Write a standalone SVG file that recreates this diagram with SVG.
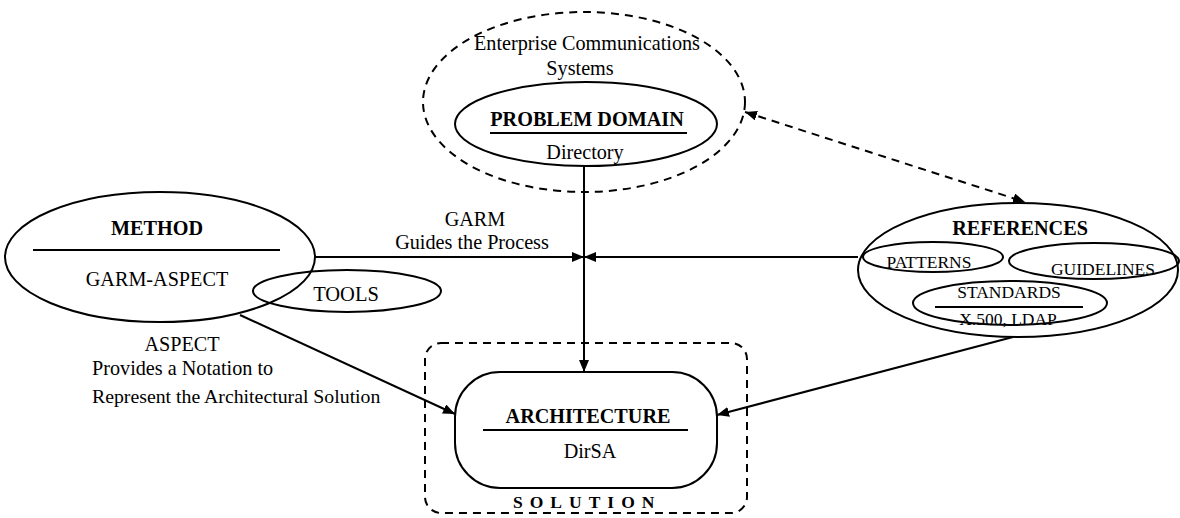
<svg xmlns="http://www.w3.org/2000/svg" width="1180" height="518" viewBox="0 0 1180 518">
<style>
  .shape { fill: none; stroke: #000; stroke-width: 2; }
  .dash { fill: none; stroke: #000; stroke-width: 2; stroke-dasharray: 8 6; }
  .line { fill: none; stroke: #000; stroke-width: 2; }
  .t { font-family: "Liberation Serif", "Times New Roman", serif; font-size: 20.2px; fill: #000; text-anchor: middle; }
  .b { font-weight: bold; }
  .s { font-size: 17.5px; }
  .ul { stroke: #000; stroke-width: 2; }
</style>
<defs>
  <marker id="ah" viewBox="0 0 12 10" refX="12" refY="5" markerWidth="12" markerHeight="10" markerUnits="userSpaceOnUse" orient="auto-start-reverse">
    <path d="M0,0 L12,5 L0,10 Z" fill="#000"/>
  </marker>
</defs>
<rect width="1180" height="518" fill="#fff"/>

<g id="connectors">
  <line class="line" x1="584" y1="165" x2="584" y2="372" marker-end="url(#ah)"/>
  <line class="line" x1="315" y1="257" x2="584" y2="257" marker-end="url(#ah)"/>
  <line class="line" x1="858" y1="257" x2="584" y2="257" marker-end="url(#ah)"/>
  <line class="line" x1="240" y1="315" x2="455" y2="414" marker-end="url(#ah)"/>
  <line class="line" x1="1013" y1="337" x2="717" y2="415" marker-end="url(#ah)"/>
  <line class="dash" x1="745" y1="112" x2="1025" y2="202" marker-start="url(#ah)" marker-end="url(#ah)"/>
  <text class="t" x="475" y="226">GARM</text>
  <text class="t" x="472" y="249">Guides the Process</text>
  <text class="t" x="182" y="351">ASPECT</text>
  <text class="t" x="92" y="375" style="text-anchor:start">Provides a Notation to</text>
  <text class="t" x="92" y="403" style="text-anchor:start;font-size:19.8px">Represent the Architectural Solution</text>
</g>

<g id="problem-domain">
  <ellipse class="dash" cx="584" cy="102" rx="161" ry="90"/>
  <text class="t" x="587" y="50">Enterprise Communications</text>
  <text class="t" x="580" y="75">Systems</text>
  <ellipse class="shape" cx="586" cy="124" rx="131" ry="42"/>
  <text class="t b" x="587" y="126">PROBLEM DOMAIN</text>
  <line class="ul" x1="490" y1="133" x2="687" y2="133"/>
  <text class="t" x="585" y="159">Directory</text>
</g>

<g id="method">
  <ellipse class="shape" cx="160" cy="257" rx="155" ry="65"/>
  <text class="t b" x="157" y="235">METHOD</text>
  <line class="ul" x1="33" y1="250" x2="280" y2="250"/>
  <text class="t" x="157" y="286">GARM-ASPECT</text>
</g>

<g id="tools">
  <ellipse class="shape" cx="347" cy="291" rx="94" ry="21"/>
  <text class="t" x="346" y="301" style="font-size:20.5px">TOOLS</text>
</g>

<g id="references">
  <ellipse class="shape" cx="1018" cy="270" rx="160" ry="67"/>
  <text class="t b" x="1020" y="235">REFERENCES</text>
  <ellipse class="shape" cx="933" cy="257" rx="70" ry="15"/>
  <text class="t s" x="929" y="268">PATTERNS</text>
  <ellipse class="shape" cx="1094" cy="261" rx="85" ry="18"/>
  <text class="t s" x="1103" y="275">GUIDELINES</text>
  <ellipse class="shape" cx="1010" cy="303" rx="97" ry="22"/>
  <text class="t s" x="1009" y="298">STANDARDS</text>
  <line class="ul" x1="935" y1="307" x2="1083" y2="307"/>
  <text class="t s" x="1008" y="325">X.500, LDAP</text>
</g>

<g id="solution">
  <rect class="dash" x="425" y="343" width="322" height="170" rx="16"/>
  <text class="t b" x="513" y="508" style="text-anchor:start;font-size:17.5px;letter-spacing:7px">SOLUTION</text>
</g>

<g id="architecture">
  <rect class="shape" x="455" y="372" width="262" height="116" rx="45"/>
  <text class="t b" x="588" y="423">ARCHITECTURE</text>
  <line class="ul" x1="483" y1="430" x2="688" y2="430"/>
  <text class="t" x="590" y="458">DirSA</text>
</g>
</svg>
